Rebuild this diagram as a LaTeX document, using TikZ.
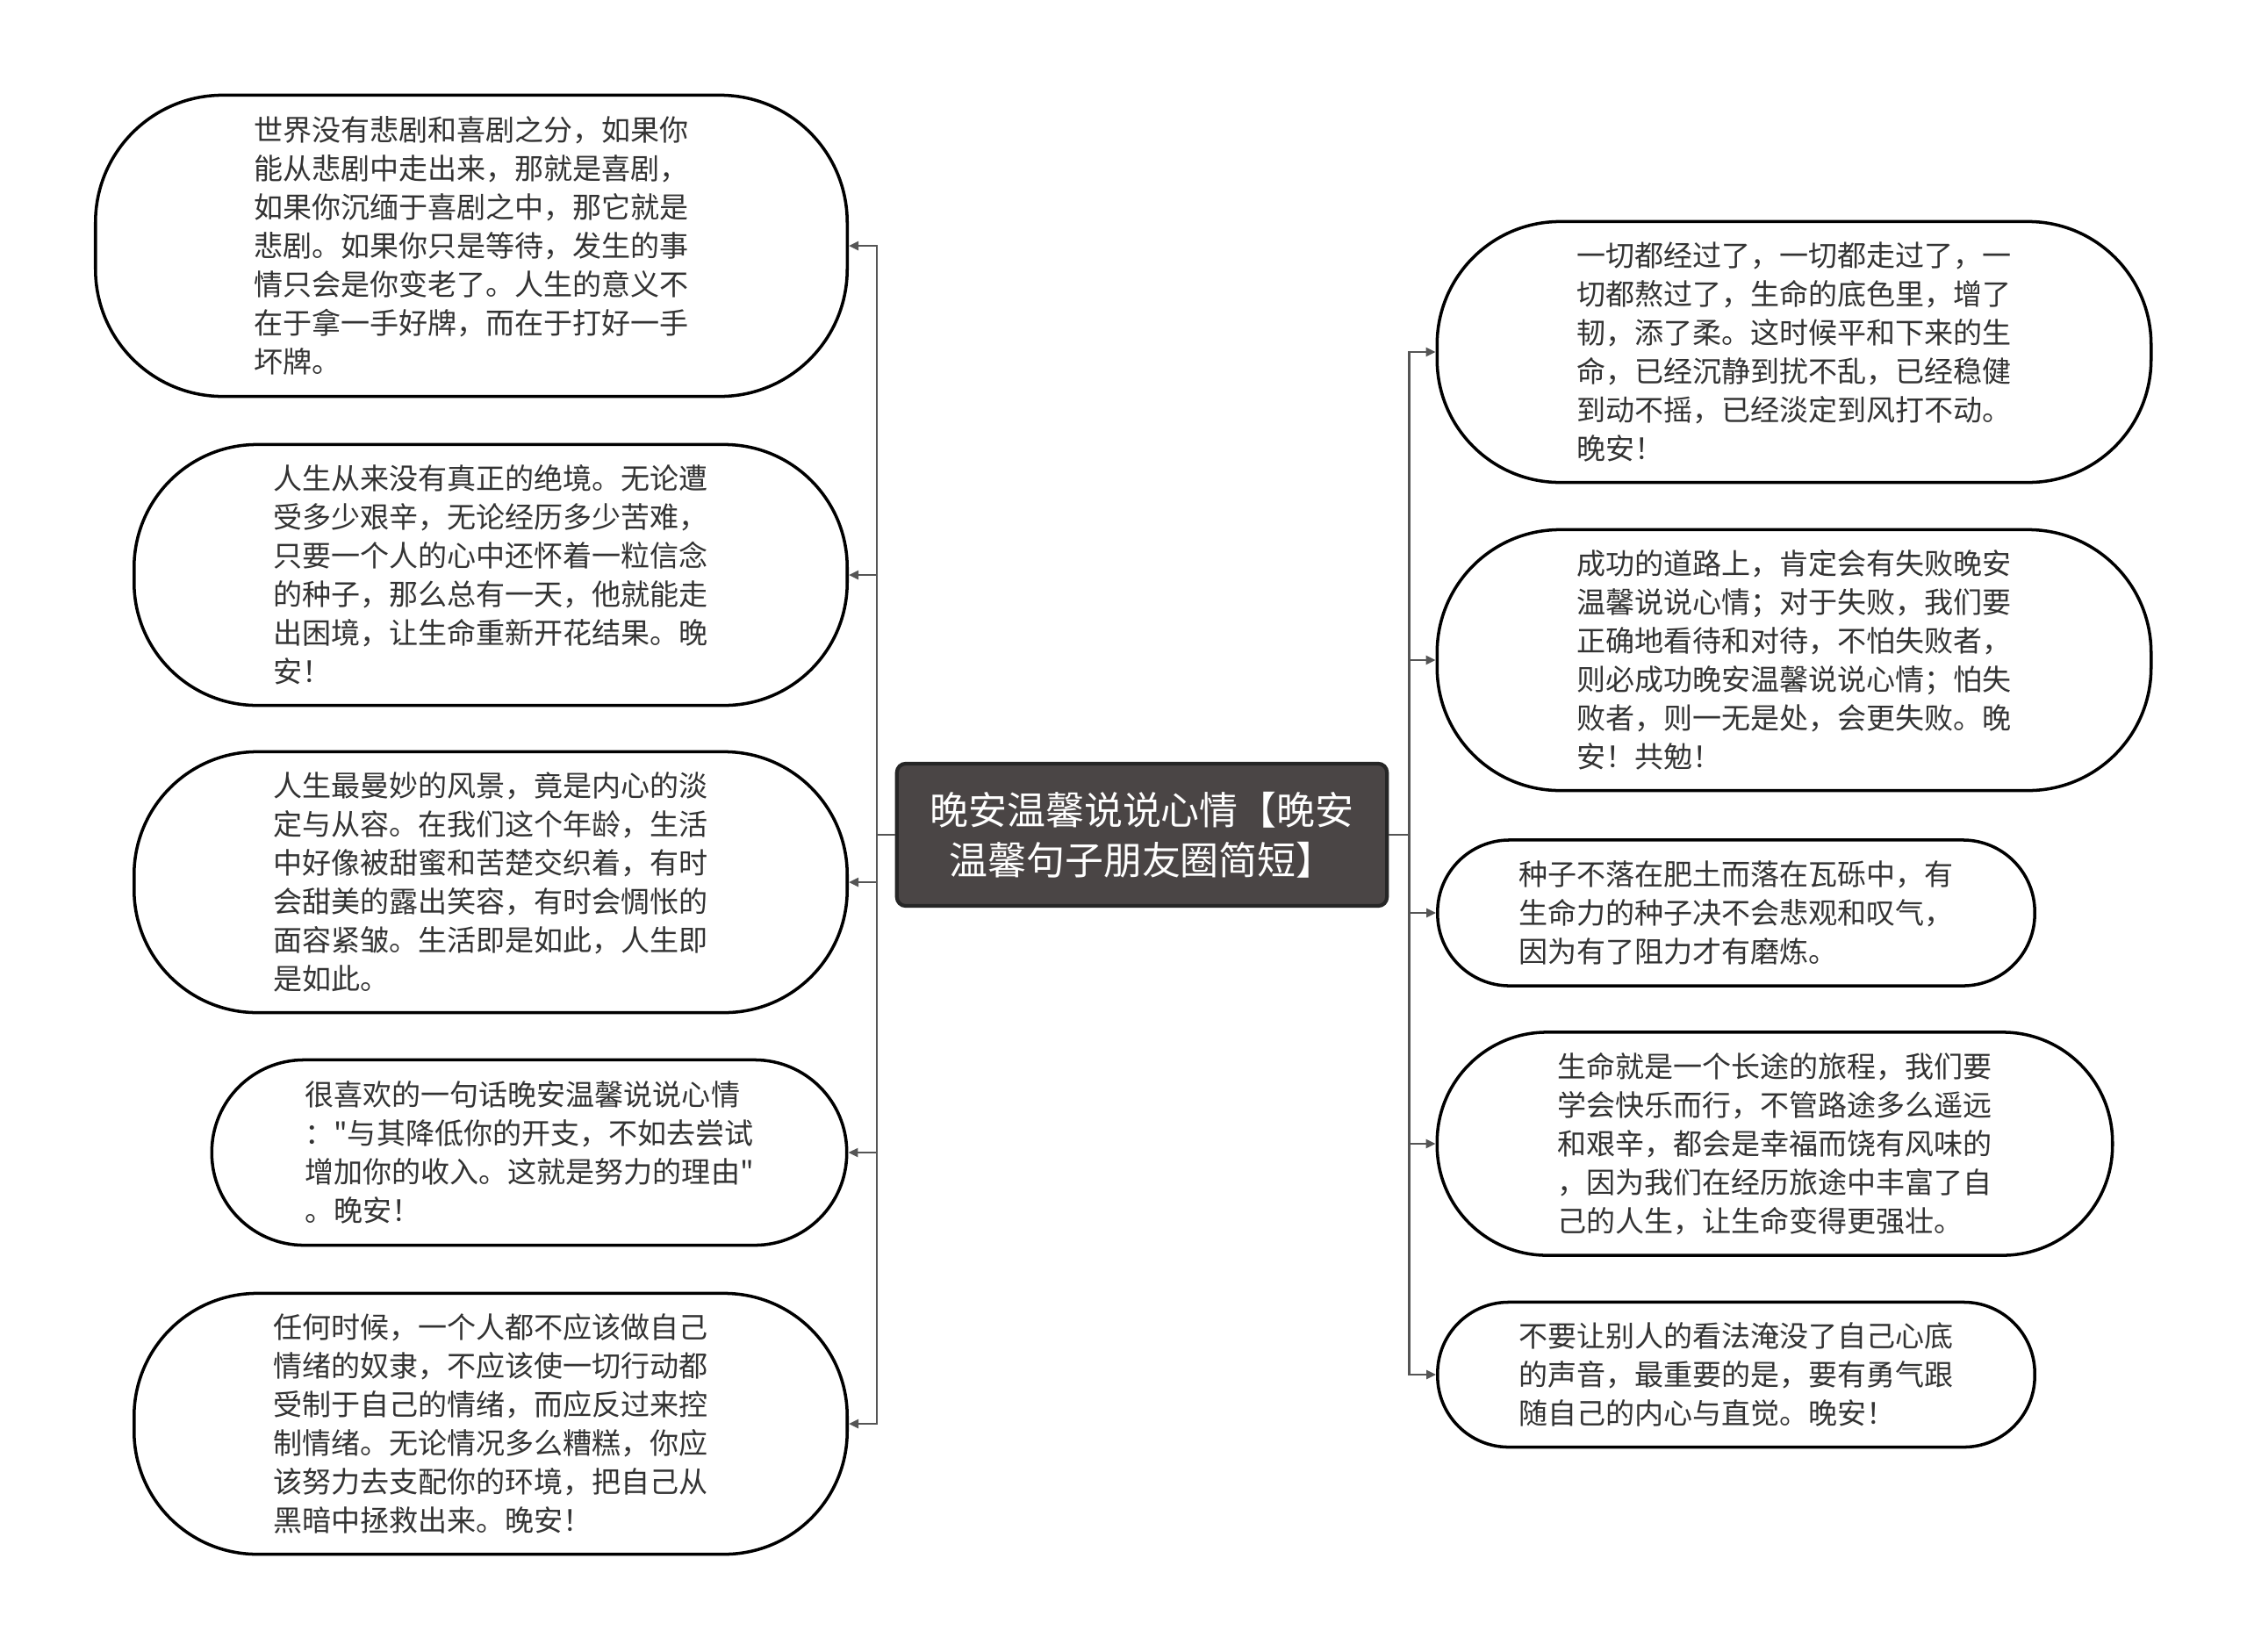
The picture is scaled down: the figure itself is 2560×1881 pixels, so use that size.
\documentclass[tikz,border=0pt]{standalone}
\usepackage{fontspec}
\newfontfamily\cjkfont{Noto Sans CJK SC}
\usetikzlibrary{arrows.meta,positioning}
\definecolor{inkgray}{HTML}{333333}
\definecolor{linkgray}{HTML}{555555}
\definecolor{titlefill}{HTML}{4A4545}
\begin{document}
\begin{tikzpicture}[x=0.01cm,y=-0.01cm,>={Triangle[length=1.1mm,width=1mm]},
  every node/.style={align=left,text=inkgray,font=\cjkfont\fontsize{9.4pt}{12.5pt}\selectfont},
  bubble/.style={draw=black,line width=1pt,fill=white,rounded corners=#1,inner sep=0pt},
  titlebox/.style={draw=black!85,line width=1.2pt,fill=titlefill,rounded corners=1mm,inner sep=0pt,
    text=white,align=center,font=\cjkfont\fontsize{12.5pt}{16.2pt}\selectfont,minimum width=5.58cm,minimum height=1.62cm},
  link/.style={->,draw=linkgray,line width=0.7pt}]
\useasboundingbox (0,0) rectangle (2560,1881);
\fill[white] (0,0) rectangle (2560,1881);
\node[titlebox] (title) at (1301,951) {晚安温馨说说心情【晚安\\温馨句子朋友圈简短】};
\node[bubble=1.45cm,minimum width=8.56cm,minimum height=3.43cm] (tragedy) at (537,280)
  {世界没有悲剧和喜剧之分，如果你\\能从悲剧中走出来，那就是喜剧，\\如果你沉缅于喜剧之中，那它就是\\悲剧。如果你只是等待，发生的事\\情只会是你变老了。人生的意义不\\在于拿一手好牌，而在于打好一手\\坏牌。};
\node[bubble=1.4cm,minimum width=8.12cm,minimum height=2.97cm] (despair) at (559,655)
  {人生从来没有真正的绝境。无论遭\\受多少艰辛，无论经历多少苦难，\\只要一个人的心中还怀着一粒信念\\的种子，那么总有一天，他就能走\\出困境，让生命重新开花结果。晚\\安！};
\node[bubble=1.4cm,minimum width=8.12cm,minimum height=2.97cm] (scenery) at (559,1005)
  {人生最曼妙的风景，竟是内心的淡\\定与从容。在我们这个年龄，生活\\中好像被甜蜜和苦楚交织着，有时\\会甜美的露出笑容，有时会惆怅的\\面容紧皱。生活即是如此，人生即\\是如此。};
\node[bubble=1.05cm,minimum width=7.23cm,minimum height=2.11cm] (effort) at (603,1313)
  {很喜欢的一句话晚安温馨说说心情\\："与其降低你的开支，不如去尝试\\增加你的收入。这就是努力的理由"\\。晚安！};
\node[bubble=1.4cm,minimum width=8.12cm,minimum height=2.97cm] (emotion) at (559,1622)
  {任何时候，一个人都不应该做自己\\情绪的奴隶，不应该使一切行动都\\受制于自己的情绪，而应反过来控\\制情绪。无论情况多么糟糕，你应\\该努力去支配你的环境，把自己从\\黑暗中拯救出来。晚安！};
\node[bubble=1.4cm,minimum width=8.13cm,minimum height=2.97cm] (passed) at (2044,401)
  {一切都经过了，一切都走过了，一\\切都熬过了，生命的底色里，增了\\韧，添了柔。这时候平和下来的生\\命，已经沉静到扰不乱，已经稳健\\到动不摇，已经淡定到风打不动。\\晚安！};
\node[bubble=1.4cm,minimum width=8.13cm,minimum height=2.97cm] (success) at (2044,752)
  {成功的道路上，肯定会有失败晚安\\温馨说说心情；对于失败，我们要\\正确地看待和对待，不怕失败者，\\则必成功晚安温馨说说心情；怕失\\败者，则一无是处，会更失败。晚\\安！共勉！};
\node[bubble=0.82cm,minimum width=6.8cm,minimum height=1.66cm] (seed) at (1978,1040)
  {种子不落在肥土而落在瓦砾中，有\\生命力的种子决不会悲观和叹气，\\因为有了阻力才有磨炼。};
\node[bubble=1.25cm,minimum width=7.69cm,minimum height=2.54cm] (journey) at (2022,1303)
  {生命就是一个长途的旅程，我们要\\学会快乐而行，不管路途多么遥远\\和艰辛，都会是幸福而饶有风味的\\，因为我们在经历旅途中丰富了自\\己的人生，让生命变得更强壮。};
\node[bubble=0.81cm,minimum width=6.8cm,minimum height=1.65cm] (heart) at (1978,1566)
  {不要让别人的看法淹没了自己心底\\的声音，最重要的是，要有勇气跟\\随自己的内心与直觉。晚安！};
\draw[link] (title.west) -- ++(-21,0) |- (tragedy.east);
\draw[link] (title.west) -- ++(-21,0) |- (despair.east);
\draw[link] (title.west) -- ++(-21,0) |- (scenery.east);
\draw[link] (title.west) -- ++(-21,0) |- (effort.east);
\draw[link] (title.west) -- ++(-21,0) |- (emotion.east);
\draw[link] (title.east) -- ++(23,0) |- (passed.west);
\draw[link] (title.east) -- ++(23,0) |- (success.west);
\draw[link] (title.east) -- ++(23,0) |- (seed.west);
\draw[link] (title.east) -- ++(23,0) |- (journey.west);
\draw[link] (title.east) -- ++(23,0) |- (heart.west);
\end{tikzpicture}
\end{document}
